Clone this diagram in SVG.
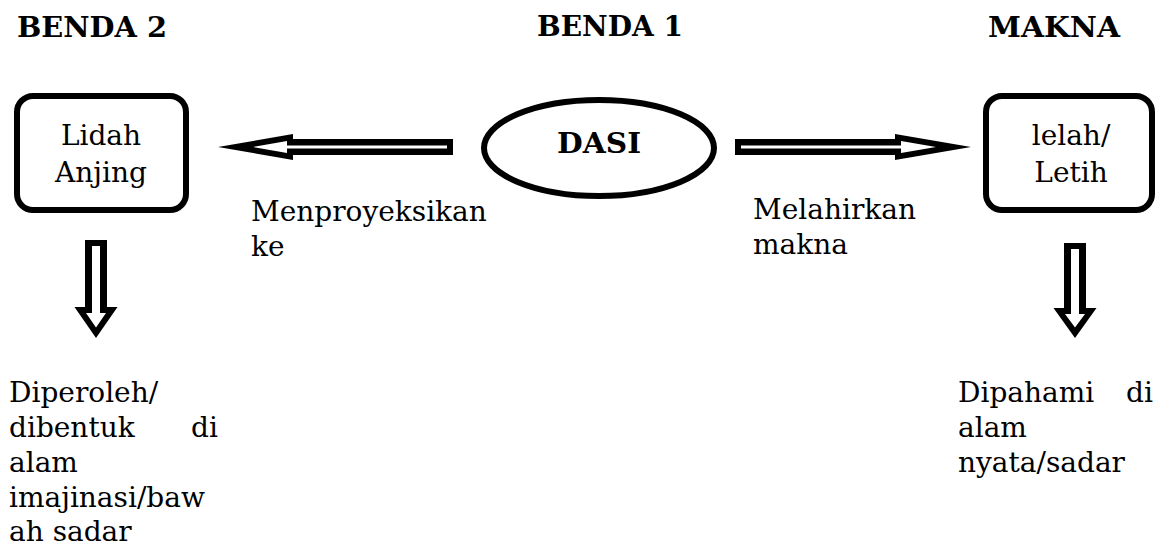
<svg xmlns="http://www.w3.org/2000/svg" width="1158" height="548" viewBox="0 0 1158 548">
<style>
.t{font-family:"DejaVu Serif","Liberation Serif",serif;font-size:28px;fill:#000}
.h{font-family:"DejaVu Serif","Liberation Serif",serif;font-size:28px;font-weight:bold;fill:#000}
.box{fill:#fff;stroke:#000;stroke-width:6}
.ao{fill:#000}
.ai{fill:#fff}
</style>
<rect width="1158" height="548" fill="#fff"/>
<g id="headings">
<text class="h" x="17" y="37" textLength="150" lengthAdjust="spacingAndGlyphs">BENDA 2</text>
<text class="h" x="537" y="36" textLength="146" lengthAdjust="spacingAndGlyphs">BENDA 1</text>
<text class="h" x="988" y="37" textLength="132" lengthAdjust="spacingAndGlyphs">MAKNA</text>
</g>
<g id="node-lidah">
<rect class="box" x="17" y="96" width="169" height="114" rx="16"/>
<text class="t" x="101" y="145" text-anchor="middle">Lidah</text>
<text class="t" x="101" y="182" text-anchor="middle">Anjing</text>
</g>
<g id="node-dasi">
<ellipse class="box" cx="599" cy="148" rx="115" ry="48"/>
<text class="h" x="557" y="153" textLength="84" lengthAdjust="spacingAndGlyphs">DASI</text>
</g>
<g id="node-lelah">
<rect class="box" x="986" y="96" width="166" height="114" rx="16"/>
<text class="t" x="1071" y="145" text-anchor="middle">lelah/</text>
<text class="t" x="1071" y="182" text-anchor="middle">Letih</text>
</g>
<g id="connectors">
<polygon class="ao" points="453,139 293,139 293,134 218,147 293,160 293,155 453,155"/>
<polygon class="ai" points="447,145.5 287,145.5 287,141.1 253,147 287,152.9 287,148.5 447,148.5"/>
<polygon class="ao" points="735,139 895,139 895,134 971,147 895,160 895,155 735,155"/>
<polygon class="ai" points="741,145.5 901,145.5 901,141.1 936,147 901,152.9 901,148.5 741,148.5"/>
<polygon class="ao" points="85,240 107,240 107,307 117.5,307 96,338 74.5,307 85,307"/>
<polygon class="ai" points="92,246 100,246 100,313 106,313 96,327.5 86,313 92,313"/>
<polygon class="ao" points="1064,243 1086,243 1086,308 1096.5,308 1075,338 1053.5,308 1064,308"/>
<polygon class="ai" points="1071,249 1079,249 1079,314 1085,314 1075,327.5 1065,314 1071,314"/>
</g>
<g id="label-menproyeksikan">
<text class="t" x="251" y="221">Menproyeksikan</text>
<text class="t" x="251" y="256">ke</text>
</g>
<g id="label-melahirkan">
<text class="t" x="753" y="219">Melahirkan</text>
<text class="t" x="753" y="254">makna</text>
</g>
<g id="note-left">
<text class="t" x="9" y="402">Diperoleh/</text>
<text class="t" x="9" y="437">dibentuk</text>
<text class="t" x="218" y="437" text-anchor="end">di</text>
<text class="t" x="9" y="472">alam</text>
<text class="t" x="9" y="507">imajinasi/baw</text>
<text class="t" x="9" y="541">ah sadar</text>
</g>
<g id="note-right">
<text class="t" x="958" y="402">Dipahami</text>
<text class="t" x="1153" y="402" text-anchor="end">di</text>
<text class="t" x="958" y="437">alam</text>
<text class="t" x="958" y="472">nyata/sadar</text>
</g>
</svg>
